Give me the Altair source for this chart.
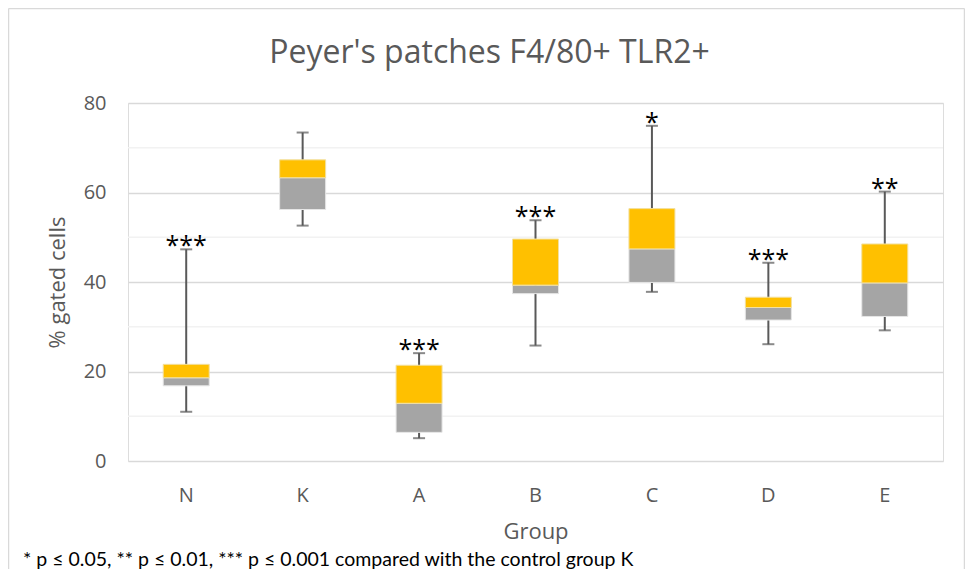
import altair as alt
import pandas as pd

groups = ["N", "K", "A", "B", "C", "D", "E"]
whisker_low = [11.0, 52.6, 5.1, 25.8, 37.8, 26.1, 29.2]
q1 = [16.8, 56.2, 6.4, 37.4, 39.9, 31.5, 32.3]
median = [18.6, 63.3, 12.9, 39.3, 47.4, 34.3, 39.8]
q3 = [21.6, 67.3, 21.4, 49.6, 56.4, 36.6, 48.5]
whisker_high = [47.3, 73.4, 24.1, 53.8, 74.9, 44.3, 60.2]
stars = ["***", "", "***", "***", "*", "***", "**"]
major_ticks = [0, 20, 40, 60, 80]
minor_ticks = [10, 30, 50, 70]
title_text = "Peyer's patches F4/80+ TLR2+"
footnote_text = "* p \u2264 0.05, ** p \u2264 0.01, *** p \u2264 0.001 compared with the control group K"

df = pd.DataFrame({
    "group": groups, "low": whisker_low, "q1": q1, "median": median,
    "q3": q3, "high": whisker_high, "stars": stars,
})
minor_df = pd.DataFrame({"v": minor_ticks})

W, H = 815, 358
FONT = "Open Sans"
GREY_TXT = "#595959"

x_enc = alt.X("group:N", sort=groups, scale=alt.Scale(paddingInner=0, paddingOuter=0),
              axis=alt.Axis(title="Group", labelAngle=0, ticks=False, domain=False,
                            labelFontSize=20, labelColor=GREY_TXT, labelFont=FONT,
                            labelPadding=24, titleFontSize=22, titleFont=FONT,
                            titleColor=GREY_TXT, titleFontWeight="normal", titlePadding=16))
y_scale = alt.Scale(domain=[0, 80], nice=False, zero=True)

base = alt.Chart(df)

minor = alt.Chart(minor_df).mark_rule(color="#f2f2f2", strokeWidth=1.5).encode(
    y=alt.Y("v:Q", scale=y_scale), x=alt.value(0), x2=alt.value(W))

grid = base.mark_rule(opacity=0).encode(
    x=x_enc,
    y=alt.Y("low:Q", scale=y_scale,
            axis=alt.Axis(title="% gated cells", values=major_ticks, grid=True,
                          gridColor="#d9d9d9", gridWidth=1.5, ticks=False, domain=False,
                          labelFontSize=20, labelColor=GREY_TXT, labelFont=FONT,
                          labelPadding=22, titleFontSize=22, titleFont=FONT,
                          titleColor=GREY_TXT, titleFontWeight="normal", titlePadding=14)))

whisk = base.mark_rule(color="#595959", strokeWidth=2).encode(
    x=alt.X("group:N", sort=groups), y=alt.Y("low:Q", scale=y_scale), y2="high:Q")

cap_lo = base.mark_tick(color="#595959", thickness=2, size=12).encode(
    x=alt.X("group:N", sort=groups), y=alt.Y("low:Q", scale=y_scale))
cap_hi = base.mark_tick(color="#595959", thickness=2, size=12).encode(
    x=alt.X("group:N", sort=groups), y=alt.Y("high:Q", scale=y_scale))

lower_box = base.mark_bar(size=46, color="#a5a5a5", stroke="#e6e6e6", strokeWidth=1).encode(
    x=alt.X("group:N", sort=groups), y=alt.Y("q1:Q", scale=y_scale), y2="median:Q")
upper_box = base.mark_bar(size=46, color="#ffc000", stroke="#f2e0a0", strokeWidth=1).encode(
    x=alt.X("group:N", sort=groups), y=alt.Y("median:Q", scale=y_scale), y2="q3:Q")

star_txt = base.mark_text(fontSize=25, font=FONT, color="black", baseline="alphabetic", dy=5).encode(
    x=alt.X("group:N", sort=groups), y=alt.Y("high:Q", scale=y_scale), text="stars:N")

foot = alt.Chart(pd.DataFrame({"t": [footnote_text]})).mark_text(
    fontSize=19.5, font="Lato", color="black", align="left", baseline="alphabetic").encode(
    x=alt.value(-105), y=alt.value(463), text="t:N")

border_l = alt.Chart(pd.DataFrame({"t": [0]})).mark_rule(color="#d9d9d9", strokeWidth=1.5).encode(
    x=alt.value(-119.5), y=alt.value(-94.5), y2=alt.value(H + 110))
border_r = alt.Chart(pd.DataFrame({"t": [0]})).mark_rule(color="#d9d9d9", strokeWidth=1.5).encode(
    x=alt.value(W + 21.5), y=alt.value(-94.5), y2=alt.value(H + 110))
border_t = alt.Chart(pd.DataFrame({"t": [0]})).mark_rule(color="#d9d9d9", strokeWidth=1.5).encode(
    x=alt.value(-119.5), x2=alt.value(W + 21.5), y=alt.value(-94.5))

chart = alt.layer(
    minor, grid, whisk, cap_lo, cap_hi, lower_box, upper_box, star_txt, foot,
    border_l, border_r, border_t
).properties(
    width=W, height=H,
    title=alt.TitleParams(title_text, fontSize=32, font=FONT, color=GREY_TXT,
                          fontWeight="normal", anchor="middle", dx=-46, offset=-87,
                          baseline="alphabetic"),
    autosize=alt.AutoSizeParams(type="none"),
    padding={"left": 120, "top": 95, "right": 22, "bottom": 108},
).configure_view(stroke=None).configure(background="white")

chart.save("out.html", embed_options={"renderer": "svg", "actions": False})
